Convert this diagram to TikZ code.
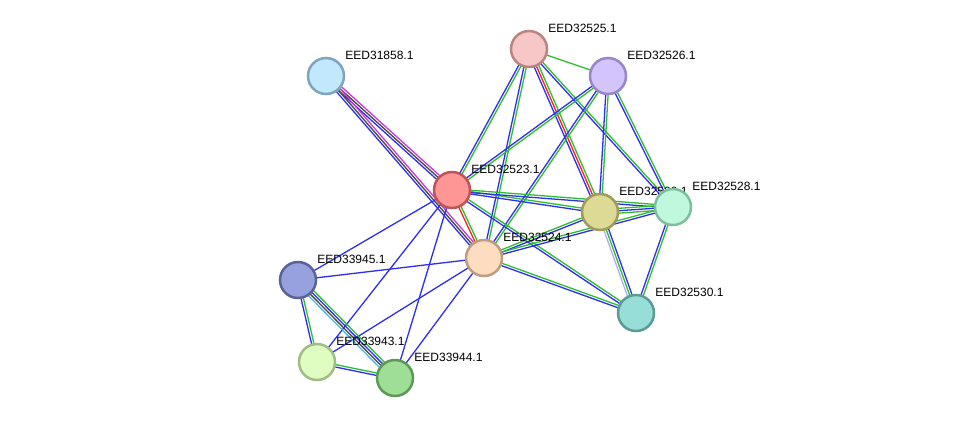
\documentclass[tikz,border=0pt]{standalone}
\usepackage{fontspec}
\setmainfont{Liberation Sans}
\usetikzlibrary{calc,backgrounds}
\definecolor{eblue}{RGB}{45,45,245}
\definecolor{egreen}{RGB}{45,190,45}
\definecolor{ered}{RGB}{240,35,35}
\definecolor{emag}{RGB}{205,55,215}
\definecolor{eblack}{RGB}{70,70,70}
\definecolor{ecyan}{RGB}{70,185,225}
\definecolor{elav}{RGB}{175,175,240}
\tikzset{
  prot/.style={circle, draw, line width=2.5pt, minimum size=36pt, inner sep=0pt},
  lbl/.style={font=\fontsize{12}{14}\selectfont, inner sep=0pt, yshift=21pt},
}
% edge as parallel coloured lines: colour/offset pairs
\newcommand{\link}[3]{%
  \foreach \c/\o in {#3}{%
    \draw[\c, line width=1.3pt] ($(#1.center)!\o!90:(#2.center)$) -- ($(#2.center)!\o!-90:(#1.center)$);}}
\begin{document}
\begin{tikzpicture}[x=1pt, y=-1pt]
\useasboundingbox (0,0) rectangle (976,424);
\node[prot, fill={rgb,255:red,194;green,232;blue,253}, draw={rgb,255:red,127;green,165;blue,190}, label={[lbl]0:EED31858.1}] (n31858) at (326,76){};
\node[prot, fill={rgb,255:red,247;green,198;blue,198}, draw={rgb,255:red,186;green,132;blue,132}, label={[lbl]0:EED32525.1}] (n32525) at (529,49){};
\node[prot, fill={rgb,255:red,211;green,196;blue,251}, draw={rgb,255:red,154;green,133;blue,200}, label={[lbl]0:EED32526.1}] (n32526) at (608,76){};
\node[prot, fill={rgb,255:red,255;green,150;blue,150}, draw={rgb,255:red,190;green,85;blue,85}, label={[lbl]0:EED32523.1}] (n32523) at (452,190){};
\node[prot, fill={rgb,255:red,221;green,218;blue,150}, draw={rgb,255:red,160;green,155;blue,88}, label={[lbl]0:EED32529.1}] (n32529) at (600,212){};
\node[prot, fill={rgb,255:red,192;green,248;blue,219}, draw={rgb,255:red,125;green,191;blue,156}, label={[lbl]0:EED32528.1}] (n32528) at (673,207){};
\node[prot, fill={rgb,255:red,254;green,220;blue,192}, draw={rgb,255:red,190;green,156;blue,128}, label={[lbl]0:EED32524.1}] (n32524) at (484,258){};
\node[prot, fill={rgb,255:red,150;green,161;blue,222}, draw={rgb,255:red,90;green,98;blue,153}, label={[lbl]0:EED33945.1}] (n33945) at (298,280){};
\node[prot, fill={rgb,255:red,151;green,222;blue,216}, draw={rgb,255:red,92;green,154;blue,149}, label={[lbl]0:EED32530.1}] (n32530) at (636,313){};
\node[prot, fill={rgb,255:red,223;green,253;blue,192}, draw={rgb,255:red,161;green,189;blue,134}, label={[lbl]0:EED33943.1}] (n33943) at (317,362){};
\node[prot, fill={rgb,255:red,159;green,222;blue,150}, draw={rgb,255:red,93;green,153;blue,86}, label={[lbl]0:EED33944.1}] (n33944) at (395,378){};
\begin{pgfonlayer}{background}
\link{n31858}{n32523}{eblue/-2.4pt, eblack/0pt, emag/2.4pt}
\link{n31858}{n32524}{eblue/-2.4pt, eblack/0pt, emag/2.4pt}
\link{n32525}{n32526}{egreen/0pt}
\link{n32525}{n32523}{eblue/-1.2pt, egreen/1.2pt}
\link{n32525}{n32524}{eblue/-1.2pt, egreen/1.2pt}
\link{n32525}{n32529}{eblue/-2.4pt, ered/0pt, egreen/2.4pt}
\link{n32525}{n32528}{eblue/-1.2pt, egreen/1.2pt}
\link{n32526}{n32523}{eblue/-1.2pt, egreen/1.2pt}
\link{n32526}{n32524}{eblue/-1.2pt, egreen/1.2pt}
\link{n32526}{n32529}{eblue/-1.2pt, egreen/1.2pt}
\link{n32526}{n32528}{eblue/-1.2pt, egreen/1.2pt}
\link{n32523}{n32529}{eblue/-1.2pt, egreen/1.2pt}
\link{n32523}{n32528}{eblue/-1.2pt, egreen/1.2pt}
\link{n32523}{n32524}{ered/-1.2pt, egreen/1.2pt}
\link{n32523}{n32530}{eblue/-1.2pt, egreen/1.2pt}
\link{n32523}{n33945}{eblue/0pt}
\link{n32523}{n33943}{eblue/0pt}
\link{n32523}{n33944}{eblue/0pt}
\link{n32524}{n32529}{eblue/-1.2pt, egreen/1.2pt}
\link{n32524}{n32528}{eblue/-1.2pt, egreen/1.2pt}
\link{n32524}{n32530}{eblue/-1.2pt, egreen/1.2pt}
\link{n32524}{n33945}{eblue/0pt}
\link{n32524}{n33943}{eblue/0pt}
\link{n32524}{n33944}{eblue/0pt}
\link{n32529}{n32528}{egreen/-2.4pt, eblue/0pt, egreen/2.4pt}
\link{n32529}{n32530}{elav/-2.4pt, egreen/0pt, eblue/2.4pt}
\link{n32528}{n32530}{eblue/-1.2pt, egreen/1.2pt}
\link{n33945}{n33943}{eblue/-1.2pt, egreen/1.2pt}
\link{n33945}{n33944}{ecyan/-3.6pt, eblack/-1.2pt, eblue/1.2pt, egreen/3.6pt}
\link{n33943}{n33944}{eblue/-1.2pt, egreen/1.2pt}
\end{pgfonlayer}
\end{tikzpicture}
\end{document}
